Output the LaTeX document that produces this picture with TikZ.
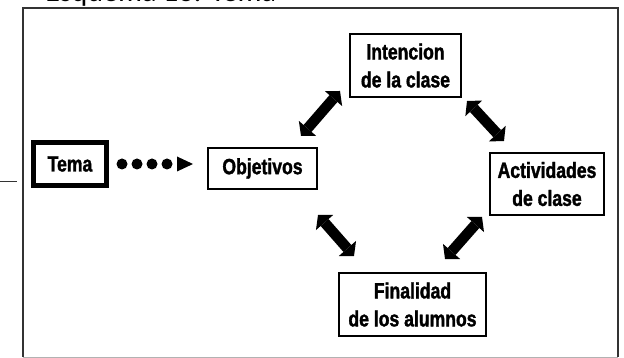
\documentclass[tikz,border=0pt]{standalone}
\usepackage{fontspec}
\usepackage{tikz}
\usetikzlibrary{arrows.meta, calc, positioning}
\newfontfamily\boxfont[FakeStretch=0.8,FakeBold=1.5]{Liberation Sans Bold}
\newfontfamily\titlefont{Carlito}

\begin{document}
\begin{tikzpicture}[x=1pt,y=-1pt,semithick]
	\tikzset{box/.style={draw,line width=2pt,align=center,inner sep=2pt,font=\boxfont\fontsize{22}{28}\selectfont},
		dbl/.style={line width=10.5pt,{Triangle[length=10pt,width=23pt,line width=0pt]}-{Triangle[length=10pt,width=23pt,line width=0pt]}},
		dots/.style={line width=11pt,line cap=round,dash pattern=on 0pt off 15pt,shorten <=13pt,shorten >=14pt,-{Triangle[length=16pt,width=15pt,line width=0pt]}}}
	\useasboundingbox (0,0) rectangle (624,358);
	% frame
	\draw[black!80,line width=2pt] (23,357) -- (23,8.5) -- (618,8.5) -- (618,357);
	\draw[black!30,line width=1pt] (23,357) -- (618,357);
	\draw[black!80,line width=1pt] (0,182) -- (17,182);
	\node[anchor=base west,inner sep=0pt,font=\titlefont\fontsize{30}{36}\selectfont] (title) at (45,1.5) {Esquema 13: Tema};
	\node[box,line width=5pt,minimum width=73pt,minimum height=43pt] (tema) at (70,164) {Tema};
	\node[box,minimum width=109pt,minimum height=41pt] (obj) [right=98pt of tema,yshift=-4.5pt] {Objetivos};
	\node[box,minimum width=111pt,minimum height=63pt] (int) [above right=49pt and 31pt of obj] {Intencion\\de la clase};
	\node[box,minimum width=114pt,minimum height=62pt] (act) [below right=54pt and 27pt of int] {Actividades\\de clase};
	\node[box,minimum width=147pt,minimum height=63pt] (fin) [below right=82pt and 20pt of obj] {Finalidad\\de los alumnos};
	\path
		(tema.east)
			edge[dots] (tema.east -| obj.west)
		([shift={(38.5,-11)}]obj.north)
			edge[dbl] ([shift={(-9,-7)}]int.south west)
		([shift={(5,3)}]int.south east)
			edge[dbl] ([shift={(15,-11)}]act.north west)
		([shift={(0,25)}]obj.south east)
			edge[dbl] ([shift={(16,-16)}]fin.north west)
		([shift={(-42,-13)}]fin.north east)
			edge[dbl] ([shift={(-7,1)}]act.south west);
\end{tikzpicture}
\end{document}
